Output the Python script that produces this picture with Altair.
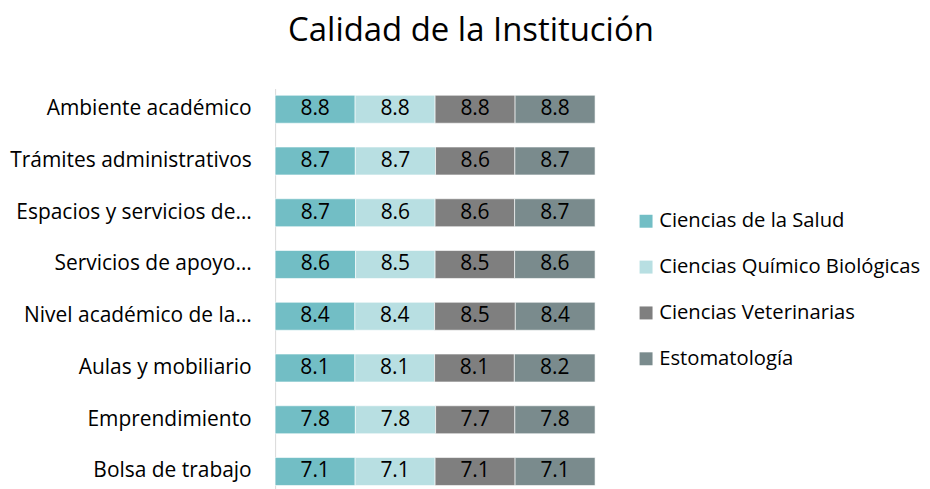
import altair as alt
import pandas as pd

categories = ["Ambiente académico", "Trámites administrativos", "Espacios y servicios de…",
              "Servicios de apoyo…", "Nivel académico de la…", "Aulas y mobiliario",
              "Emprendimiento", "Bolsa de trabajo"]
series = ["Ciencias de la Salud", "Ciencias Químico Biológicas", "Ciencias Veterinarias", "Estomatología"]
salud = [8.8, 8.7, 8.7, 8.6, 8.4, 8.1, 7.8, 7.1]
quimico = [8.8, 8.7, 8.6, 8.5, 8.4, 8.1, 7.8, 7.1]
veterinarias = [8.8, 8.6, 8.6, 8.5, 8.5, 8.1, 7.7, 7.1]
estomatologia = [8.8, 8.7, 8.7, 8.6, 8.4, 8.2, 7.8, 7.1]
colors = ["#72BEC5", "#B8DFE2", "#7F7F7F", "#7A8B8D"]

rows = []
for si, (s, vals) in enumerate(zip(series, [salud, quimico, veterinarias, estomatologia])):
    for c, v in zip(categories, vals):
        rows.append({"cat": c, "series": s, "value": v, "ord": si})
df = pd.DataFrame(rows)

FONT = "Open Sans"
FS = 21

yenc = alt.Y("cat:N", sort=categories, title=None,
             scale=alt.Scale(paddingInner=0.46, paddingOuter=0.13),
             axis=alt.Axis(ticks=False, labelFontSize=FS, labelFont=FONT, labelColor="#000000",
                           labelPadding=24, domainColor="#D9D9D9", domainWidth=1, labelLimit=400))

base = alt.Chart(df)

bars = base.mark_bar(stroke="white", strokeWidth=0.6).encode(
    y=yenc,
    x=alt.X("value:Q", stack="normalize", axis=None, scale=alt.Scale(domain=[0, 1], nice=False)),
    color=alt.Color("series:N", sort=series,
                    scale=alt.Scale(domain=series, range=colors),
                    legend=alt.Legend(title=None, orient="none", legendX=362, legendY=123,
                                      symbolType="square", symbolSize=169, symbolStrokeWidth=0,
                                      labelFontSize=20.3, labelFont=FONT, labelColor="#000000",
                                      labelLimit=400, rowPadding=25, labelOffset=3)),
    order=alt.Order("ord:Q"),
)

text = base.transform_stack(
    stack="value", groupby=["cat"], as_=["v0", "v1"], offset="normalize",
    sort=[alt.SortField("ord", order="ascending")]
).transform_calculate(
    mid="(datum.v0 + datum.v1) / 2"
).mark_text(fontSize=FS, font=FONT, color="#000000").encode(
    y=alt.Y("cat:N", sort=categories),
    x=alt.X("mid:Q", scale=alt.Scale(domain=[0, 1], nice=False)),
    text=alt.Text("value:Q", format=".1f"),
)

chart = alt.layer(bars, text).properties(
    width=321, height=405,
    title=alt.Title("Calidad de la Institución", fontSize=33, font=FONT, fontWeight="normal",
                    color="#000000", anchor="middle", dx=36, offset=15, baseline="alphabetic"),
    autosize=alt.AutoSizeParams(type="none"),
    padding={"left": 268, "top": 80, "right": 328, "bottom": 0},
).configure_view(stroke=None)

chart.save("out.html", embed_options={"renderer": "svg", "actions": False})
